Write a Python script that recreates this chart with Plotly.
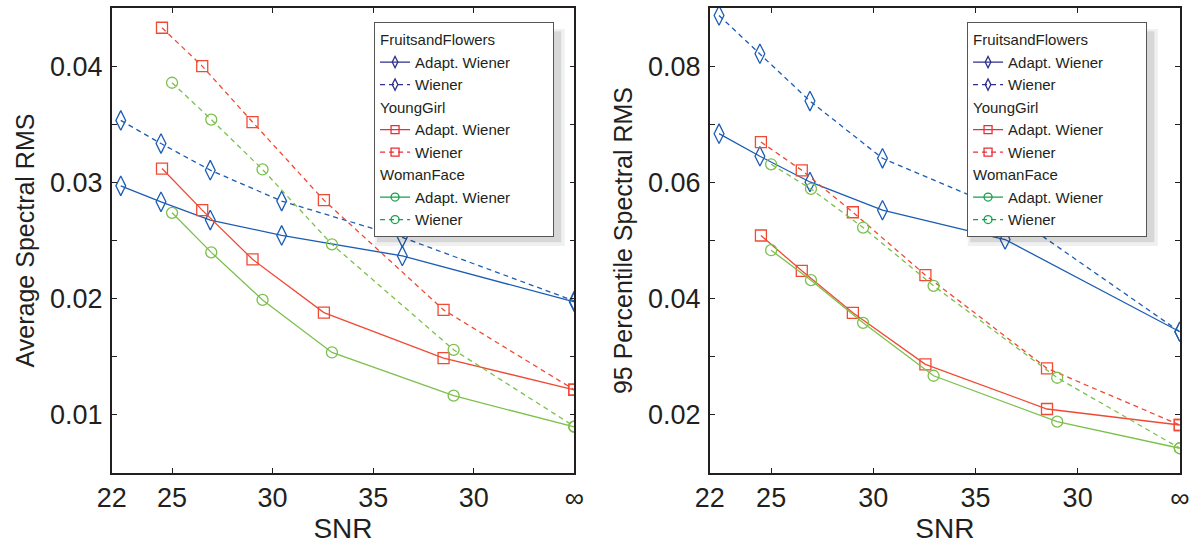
import plotly.graph_objects as go

# ---- data ----
x_ticks = [22, 25, 30, 35, 40, 45]
x_tick_labels = ["22", "25", "30", "35", "30", "∞"]

snr_ff = [22.45, 24.45, 26.9, 30.45, 36.45, 45]
snr_yg = [24.5, 26.5, 29.0, 32.55, 38.5, 45]
snr_wf = [25.0, 26.95, 29.5, 32.95, 39.0, 45]

# Average spectral RMS (left)
avg_ff_adapt = [0.0297, 0.02833, 0.02676, 0.02544, 0.02367, 0.01972]
avg_ff_wiener = [0.03533, 0.03334, 0.03105, 0.02839, 0.02527, 0.0198]
avg_yg_adapt = [0.03119, 0.02761, 0.02338, 0.0188, 0.01488, 0.01216]
avg_yg_wiener = [0.0433, 0.0400, 0.03519, 0.02847, 0.01903, 0.01216]
avg_wf_adapt = [0.02738, 0.02398, 0.01989, 0.01537, 0.01165, 0.00896]
avg_wf_wiener = [0.03857, 0.0354, 0.03111, 0.02467, 0.0156, 0.00901]

# 95 percentile spectral RMS (right)
p95_ff_adapt = [0.06838, 0.06449, 0.06007, 0.05521, 0.05017, 0.0343]
p95_ff_wiener = [0.08871, 0.08213, 0.07399, 0.06414, 0.05521, 0.0343]
p95_yg_adapt = [0.05086, 0.04478, 0.03756, 0.02869, 0.02101, 0.01826]
p95_yg_wiener = [0.06694, 0.06208, 0.05486, 0.04404, 0.02801, 0.01826]
p95_wf_adapt = [0.04833, 0.04318, 0.03584, 0.02673, 0.01883, 0.01426]
p95_wf_wiener = [0.06311, 0.05887, 0.05223, 0.0422, 0.02639, 0.01426]

left_ticks = [0.01, 0.015, 0.02, 0.025, 0.03, 0.035, 0.04]
left_tick_labels = ["0.01", "", "0.02", "", "0.03", "", "0.04"]
right_ticks = [0.02, 0.03, 0.04, 0.05, 0.06, 0.07, 0.08]
right_tick_labels = ["0.02", "", "0.04", "", "0.06", "", "0.08"]

images = ["FruitsandFlowers", "YoungGirl", "WomanFace"]
methods = ["Adapt. Wiener", "Wiener"]

# ---- styles ----
FONT = "Liberation Sans, Arial, Helvetica, sans-serif"
TXT = "#231f20"
line_col = {"FruitsandFlowers": "#1c5db4", "YoungGirl": "#f04a34", "WomanFace": "#7cc04c"}
leg_col = {"FruitsandFlowers": "#2c2f8c", "YoungGirl": "#ec2d34", "WomanFace": "#12a14a"}
symbol = {"FruitsandFlowers": "diamond-tall-open", "YoungGirl": "square-open", "WomanFace": "circle-open"}
msize = {"FruitsandFlowers": 14, "YoungGirl": 11, "WomanFace": 11}
dash = {"Adapt. Wiener": "solid", "Wiener": "5px,4px"}
PAD = "\u00a0" * 9  # widens the legend box to match the reference

snr = {"FruitsandFlowers": snr_ff, "YoungGirl": snr_yg, "WomanFace": snr_wf}
left_vals = {
    ("FruitsandFlowers", "Adapt. Wiener"): avg_ff_adapt,
    ("FruitsandFlowers", "Wiener"): avg_ff_wiener,
    ("YoungGirl", "Adapt. Wiener"): avg_yg_adapt,
    ("YoungGirl", "Wiener"): avg_yg_wiener,
    ("WomanFace", "Adapt. Wiener"): avg_wf_adapt,
    ("WomanFace", "Wiener"): avg_wf_wiener,
}
right_vals = {
    ("FruitsandFlowers", "Adapt. Wiener"): p95_ff_adapt,
    ("FruitsandFlowers", "Wiener"): p95_ff_wiener,
    ("YoungGirl", "Adapt. Wiener"): p95_yg_adapt,
    ("YoungGirl", "Wiener"): p95_yg_wiener,
    ("WomanFace", "Adapt. Wiener"): p95_wf_adapt,
    ("WomanFace", "Wiener"): p95_wf_wiener,
}

fig = go.Figure()

for vals, xa, ya, leg in [(left_vals, "x", "y", "legend"), (right_vals, "x2", "y2", "legend2")]:
    # data traces
    for img in images:
        for m in methods:
            fig.add_trace(go.Scatter(
                x=snr[img], y=vals[(img, m)], xaxis=xa, yaxis=ya,
                mode="lines+markers",
                line=dict(color=line_col[img], width=1.3, dash=dash[m]),
                marker=dict(symbol=symbol[img], size=msize[img],
                            line=dict(color=line_col[img], width=1.3)),
                showlegend=False, hoverinfo="skip",
            ))
    # legend-only entries
    for img in images:
        for i, m in enumerate(methods):
            fig.add_trace(go.Scatter(
                x=[None], y=[None], xaxis=xa, yaxis=ya,
                mode="lines+markers", name=m + (PAD if m == "Adapt. Wiener" else ""), legend=leg,
                legendgroup=img + leg,
                legendgrouptitle=dict(text=img if i == 0 else None,
                                      font=dict(size=15, color=TXT, family=FONT)),
                line=dict(color=leg_col[img], width=1.3, dash=dash[m]),
                marker=dict(symbol=symbol[img], size=8,
                            line=dict(color=leg_col[img], width=1.3)),
            ))

axis_common = dict(
    showline=True, linewidth=1.6, linecolor=TXT, mirror="ticks",
    ticks="inside", ticklen=5, tickwidth=1.2, tickcolor=TXT,
    showgrid=False, zeroline=False,
    tickfont=dict(size=27, color=TXT, family=FONT),
    automargin=False, ticklabeloverflow="allow",
)

legend_common = dict(
    xanchor="right", yanchor="top", y=0.9692,
    bgcolor="white", bordercolor="#555555", borderwidth=1,
    font=dict(size=15, color=TXT, family=FONT), tracegroupgap=0,
    itemwidth=30,
)

# soft drop shadows behind the two legend boxes (paper coordinates)
shadows = []
for x0, x1 in [(0.3165, 0.4712), (0.8145, 0.9692)]:
    shadows.append(dict(type="rect", xref="paper", yref="paper", layer="above",
                        x0=x0 - 0.002, x1=x1 + 0.003, y0=0.488, y1=0.955,
                        fillcolor="rgba(0,0,0,0.06)", line=dict(width=0)))
    shadows.append(dict(type="rect", xref="paper", yref="paper", layer="above",
                        x0=x0, x1=x1, y0=0.496, y1=0.950,
                        fillcolor="rgba(0,0,0,0.10)", line=dict(width=0)))

fig.update_layout(
    width=1191, height=544,
    margin=dict(l=0, r=0, t=8, b=71),
    paper_bgcolor="white", plot_bgcolor="white",
    font=dict(family=FONT, color=TXT),
    xaxis=dict(domain=[0.0938, 0.4822], range=[22, 45], tickvals=x_ticks, ticktext=x_tick_labels,
               title=dict(text="SNR", font=dict(size=28, color=TXT), standoff=4),
               ticklabelstandoff=0, anchor="y", **axis_common),
    yaxis=dict(domain=[0, 1], range=[0.005, 0.045], tickvals=left_ticks, ticktext=left_tick_labels,
               title=dict(text="Average Spectral RMS", font=dict(size=25, color=TXT), standoff=8),
               ticklabelstandoff=2, anchor="x", **axis_common),
    xaxis2=dict(domain=[0.5960, 0.9906], range=[22, 45], tickvals=x_ticks, ticktext=x_tick_labels,
                title=dict(text="SNR", font=dict(size=28, color=TXT), standoff=4),
                ticklabelstandoff=0, anchor="y2", **axis_common),
    yaxis2=dict(domain=[0, 1], range=[0.01, 0.09], tickvals=right_ticks, ticktext=right_tick_labels,
                title=dict(text="95 Percentile Spectral RMS", font=dict(size=25, color=TXT), standoff=8),
                ticklabelstandoff=2, anchor="x2", **axis_common),
    legend=dict(x=0.4652, **legend_common),
    legend2=dict(x=0.9631, **legend_common),
    shapes=shadows,
)

fig.write_html("out.html", config={"displayModeBar": False},
               post_script="document.body.style.margin='0';")
